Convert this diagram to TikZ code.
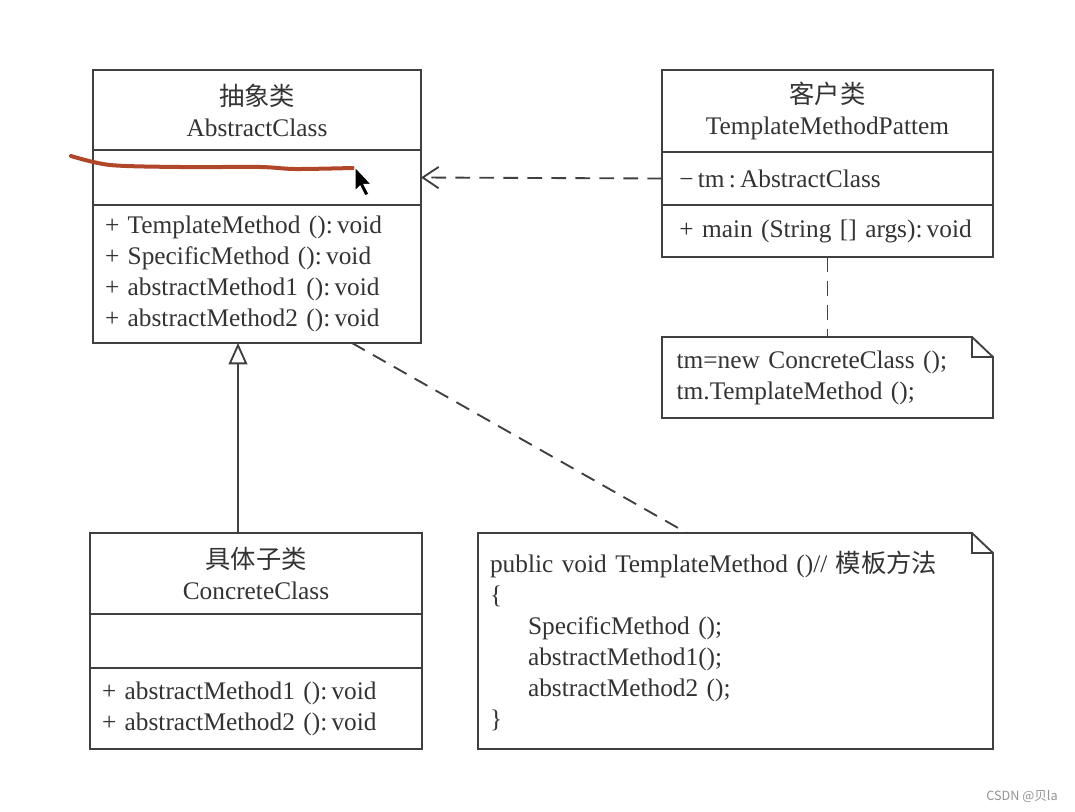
\documentclass[tikz,border=0pt]{standalone}
\usepackage{fontspec}
\setmainfont{Liberation Serif}
\newfontfamily\cjk{Noto Sans CJK SC}
\usepackage{xcolor}
\usepackage{tikz}
\usetikzlibrary{arrows.meta,positioning,calc}
\definecolor{linegray}{HTML}{404040}
\definecolor{textgray}{HTML}{333333}
\definecolor{penred}{HTML}{B0472B}

\begin{document}
\begin{tikzpicture}[x=0.75pt, y=-0.75pt,
    cls/.style={draw=linegray, line width=1.4pt, text=textgray, inner xsep=9pt, inner ysep=0pt, outer sep=0pt, font=\fontsize{19}{23.25}\selectfont},
    head/.style={cls, align=center},
    body/.style={cls, align=left},
    dep/.style={draw=linegray, line width=1.4pt, dash pattern=on 11pt off 7pt}
]
    \useasboundingbox[fill=white] (0,0) rectangle (1075,811);

    % Abstract class
    \node[head, minimum width=246pt, minimum height=60pt] (abshead) at (257,110) {{\cjk 抽象类}\\AbstractClass};
    \node[body, text width=228pt, minimum height=41.25pt, below=0pt of abshead] (absattr) {};
    \node[body, text width=228pt, minimum height=103.5pt, below=0pt of absattr] (absops) {+ TemplateMethod ():\,void\\+ SpecificMethod ():\,void\\+ abstractMethod1 ():\,void\\+ abstractMethod2 ():\,void};

    % Client class
    \node[head, minimum width=248.25pt, minimum height=61.5pt] (clihead) at (827.5,111) {{\cjk 客户类}\\TemplateMethodPattem};
    \node[body, inner xsep=13pt, text width=222.25pt, minimum height=39.75pt, below=0pt of clihead] (cliattr) {−\,tm\,:\,AbstractClass};
    \node[body, inner xsep=13pt, text width=222.25pt, minimum height=39pt, below=0pt of cliattr] (cliops) {+ main (String [] args):\,void};

    % Concrete class
    \node[head, minimum width=249pt, minimum height=60.75pt] (conhead) at (256,573.5) {{\cjk 具体子类}\\ConcreteClass};
    \node[body, text width=231pt, minimum height=40.5pt, below=0pt of conhead] (conattr) {};
    \node[body, text width=231pt, minimum height=60.75pt, below=0pt of conattr] (conops) {+ abstractMethod1 ():\,void\\+ abstractMethod2 ():\,void};

    % Notes
    \node[body, draw=none, inner xsep=11pt, text width=226.25pt, minimum height=60.75pt] (note1) at (827.5,377.5) {tm=new ConcreteClass ();\\tm.TemplateMethod ();};
    \node[body, draw=none, text width=368.25pt, minimum height=162pt] (note2) at (735.5,641) {public void TemplateMethod ()// {\cjk 模板方法}\\\{\\\hspace*{28.5pt}SpecificMethod ();\\\hspace*{28.5pt}abstractMethod1();\\\hspace*{28.5pt}abstractMethod2 ();\\\}};
    \draw[linegray, line width=1.4pt] (note1.north west) -- ($(note1.north east)+(-21,0)$) -- ($(note1.north east)+(0,20)$) -- (note1.south east) -- (note1.south west) -- cycle;
    \draw[linegray, line width=1.4pt] ($(note1.north east)+(-21,0)$) -- ($(note1.north east)+(-21,20)$) -- ($(note1.north east)+(0,20)$);
    \draw[linegray, line width=1.4pt] (note2.north west) -- ($(note2.north east)+(-21,0)$) -- ($(note2.north east)+(0,20)$) -- (note2.south east) -- (note2.south west) -- cycle;
    \draw[linegray, line width=1.4pt] ($(note2.north east)+(-21,0)$) -- ($(note2.north east)+(-21,20)$) -- ($(note2.north east)+(0,20)$);

    % Connectors
    \draw[dep, -{Straight Barb[length=12pt, width=16pt]}] (cliattr.west) -- (absattr.east);
    \draw[dep] (cliops.south) -- (note1.north);
    \draw[linegray, line width=1.4pt, -{Triangle[open, length=16pt, width=14pt, fill=white]}] ($(conhead.north)+(-18,0)$) -- ($(absops.south)+(-19,0)$);
    \draw[dep] ($(absops.south)+(95,0)$) -- ($(note2.north)+(-48.5,0)$);

    % Pen mark and pointer
    \draw[penred, line width=3pt, line cap=round] plot[smooth] coordinates {(71,156) (110,165) (180,167) (260,167) (295,169) (353,168)};
    \filldraw[fill=black, draw=white, line width=0.8pt] (355,167) -- ++(0,24) -- ++(5,-5) -- ++(5,10) -- ++(4,-2) -- ++(-5,-9.5) -- ++(7.5,0) -- cycle;

    % Watermark
    \node[font=\cjk\fontsize{9.5}{11}\selectfont, text=gray!85] (mark) at (1022,797) {CSDN @贝la};
\end{tikzpicture}
\end{document}
